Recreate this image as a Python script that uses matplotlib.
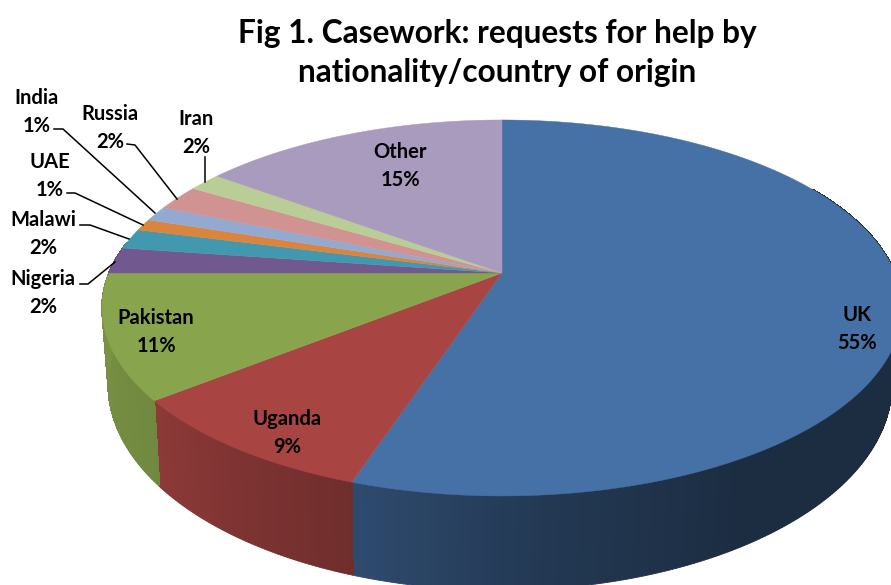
import numpy as np
import matplotlib
matplotlib.use("Agg")
import matplotlib.pyplot as plt

categories = ["UK", "Uganda", "Pakistan", "Nigeria", "Malawi", "UAE", "India", "Russia", "Iran", "Other"]
shares = [55.1, 9.2, 10.7, 2.25, 1.75, 1.0, 1.3, 2.2, 1.6, 14.9]
percent_labels = ["55%", "9%", "11%", "2%", "2%", "1%", "1%", "2%", "2%", "15%"]
colors = ["#4671a6", "#a84543", "#88a44c", "#71588f", "#4198af", "#db843d", "#93a9cf", "#d19392", "#b9cd96", "#a99bbd"]

label_pos = {"UK": (857, 329), "Uganda": (287, 433), "Pakistan": (156, 332), "Nigeria": (43, 293),
             "Malawi": (43, 234), "UAE": (50, 176), "India": (37, 112), "Russia": (110, 128),
             "Iran": (196, 133), "Other": (400, 166)}
leaders = {"Nigeria": [(80, 284), (88, 284), (115, 262)], "Malawi": [(80, 225), (90, 225), (129, 239)],
           "UAE": [(67, 193), (75, 193), (143, 225)], "India": [(54, 129), (63, 129), (155, 213)],
           "Russia": [(127, 144), (135, 145), (177, 199)], "Iran": [(205, 157), (205, 182)]}

plt.rcParams["font.family"] = ["Lato", "DejaVu Sans"]
fig = plt.figure(figsize=(8.91, 5.85), dpi=100, facecolor="white")
ax = fig.add_axes([0, 0, 1, 1])
ax.set_xlim(0, 891)
ax.set_ylim(585, 0)
ax.axis("off")

K = 0.186


def project(theta, cx, cy, a, b):
    """theta: radians clockwise from 12 o'clock; perspective view of a disc."""
    x, y = np.sin(theta), np.cos(theta)
    w = 1 + K * y
    return cx + b * x / w, cy - a * y / w


TOP = (502, 273, 181.5, 393)
BOTTOM = (500, 347, 198, 385)


def wall_shade(deg):
    return np.interp(deg, [90, 150, 175, 198, 230, 270], [0.40, 0.40, 0.50, 0.66, 0.83, 0.90])


def scaled(color, f):
    r = np.array(matplotlib.colors.to_rgb(color)) * f
    return tuple(np.clip(r, 0, 1))


edges = np.concatenate([[0], np.cumsum(shares)]) / np.sum(shares) * 360

# side wall: antialiased outer layer, then a seamless inner layer
for i, col in enumerate(colors):
    lo, hi = edges[i], edges[i + 1]
    lo_v, hi_v = max(lo, 60), min(hi, 280)
    if hi_v <= lo_v:
        continue
    steps = np.linspace(lo_v, hi_v, max(2, int((hi_v - lo_v) / 0.5) + 1))
    for inset, aa, z in ((0.0, True, 2), (1.5, False, 2.5)):
        for d0, d1 in zip(steps[:-1], steps[1:]):
            t = np.radians([d0, d1])
            xt, yt = project(t, *TOP)
            xb, yb = project(t, *BOTTOM)
            c = scaled(col, wall_shade((d0 + d1) / 2))
            ax.fill([xt[0], xt[1], xb[1], xb[0]], [yt[0], yt[1], yb[1] - inset, yb[0] - inset],
                    facecolor=c, edgecolor=c, linewidth=0.6, zorder=z, antialiased=aa)

# top surface
for i, col in enumerate(colors):
    t = np.radians(np.linspace(edges[i], edges[i + 1], 200))
    xs, ys = project(t, *TOP)
    ax.fill(np.r_[TOP[0], xs], np.r_[TOP[1], ys], facecolor=col, edgecolor=col, linewidth=0.3, zorder=3)

# leader lines
for name, pts in leaders.items():
    px, py = zip(*pts)
    ax.plot(px, py, color="black", linewidth=1.1, zorder=4, solid_joinstyle="round")

# data labels
for name, pct in zip(categories, percent_labels):
    lx, ly = label_pos[name]
    ax.text(lx, ly, f"{name}\n{pct}", ha="center", va="center", fontsize=14.5, fontweight="bold",
            color="black", linespacing=1.5, zorder=5)

ax.text(497, 53, "Fig 1. Casework: requests for help by\nnationality/country of origin",
        ha="center", va="center", fontsize=22.8, fontweight="bold", color="black", linespacing=1.41, zorder=5)

fig.savefig("out.png", dpi=100, facecolor="white")
